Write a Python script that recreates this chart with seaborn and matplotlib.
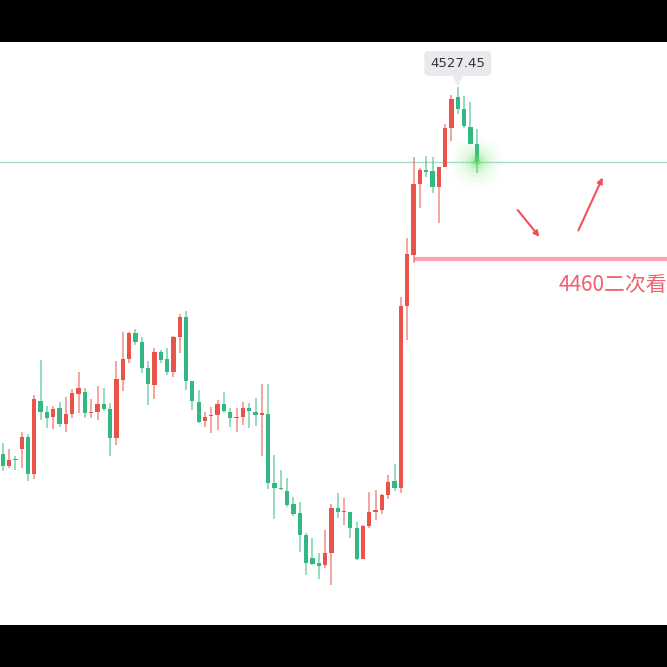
import numpy as np
import pandas as pd
import seaborn as sns
import matplotlib
matplotlib.use("Agg")
import matplotlib.pyplot as plt

# candle values (gold, short timeframe)
opens = [4383.7, 4379.2, 4381.8, 4385.8, 4390.6, 4376.0, 4404.7, 4400.2, 4398.5, 4401.7,
         4395.6, 4399.5, 4407.3, 4408.2, 4399.8, 4400.3, 4403.3, 4401.4, 4390.2, 4412.8,
         4420.9, 4431.1, 4427.6, 4417.6, 4410.9, 4423.7, 4421.0, 4416.1, 4429.5, 4437.6,
         4412.4, 4404.3, 4396.8, 4398.6, 4399.1, 4403.3, 4400.4, 4397.8, 4398.5, 4402.0,
         4400.4, 4399.2, 4399.5, 4372.4, 4370.5, 4369.5, 4364.2, 4360.6, 4352.1, 4343.3,
         4341.1, 4340.4, 4345.0, 4362.6, 4361.0, 4361.3, 4355.0, 4342.6, 4355.8, 4361.3,
         4361.9, 4367.8, 4373.3, 4370.4, 4441.8, 4461.8, 4489.6, 4495.0, 4494.6, 4488.3,
         4496.1, 4511.4, 4523.5, 4518.9, 4511.8, 4505.2]
closes = [4379.2, 4381.5, 4381.4, 4390.6, 4376.0, 4405.3, 4400.3, 4398.0, 4401.6, 4395.6,
          4399.4, 4407.6, 4409.6, 4399.9, 4400.3, 4403.3, 4401.4, 4390.2, 4413.1, 4420.9,
          4431.1, 4427.6, 4417.6, 4411.3, 4423.7, 4420.5, 4415.8, 4429.5, 4437.6, 4412.4,
          4404.6, 4396.5, 4398.2, 4399.1, 4403.3, 4400.7, 4397.8, 4398.2, 4402.0, 4400.7,
          4399.1, 4399.8, 4372.6, 4370.7, 4370.0, 4363.9, 4360.4, 4352.1, 4341.3, 4340.8,
          4340.1, 4345.0, 4362.6, 4361.3, 4361.5, 4355.0, 4342.6, 4355.7, 4361.0, 4361.9,
          4367.8, 4372.8, 4370.7, 4441.8, 4462.0, 4489.6, 4495.0, 4494.4, 4488.3, 4496.1,
          4511.4, 4522.8, 4518.9, 4512.3, 4505.2, 4498.3]
highs = [4388.0, 4385.8, 4383.1, 4392.4, 4391.6, 4406.8, 4420.5, 4402.8, 4402.6, 4404.3,
         4406.1, 4409.2, 4415.8, 4409.6, 4405.4, 4410.5, 4409.6, 4403.7, 4420.4, 4431.5,
         4431.5, 4432.8, 4429.8, 4420.4, 4425.2, 4424.6, 4425.2, 4430.2, 4438.7, 4439.8,
         4412.4, 4408.9, 4400.4, 4402.4, 4405.0, 4408.2, 4402.0, 4402.0, 4404.3, 4403.7,
         4405.7, 4411.1, 4411.1, 4383.5, 4377.6, 4374.3, 4367.1, 4364.9, 4353.0, 4350.8,
         4345.2, 4354.1, 4364.3, 4368.5, 4366.5, 4361.3, 4357.4, 4356.1, 4369.1, 4369.8,
         4368.1, 4375.6, 4379.8, 4445.4, 4468.3, 4500.0, 4495.7, 4500.5, 4500.2, 4496.3,
         4512.9, 4524.4, 4527.45, 4524.0, 4521.5, 4511.0]
lows = [4377.3, 4378.3, 4377.6, 4378.3, 4373.3, 4374.1, 4397.2, 4394.2, 4393.5, 4394.3,
        4392.5, 4397.8, 4399.8, 4398.0, 4397.8, 4397.2, 4400.7, 4383.1, 4387.4, 4408.5,
        4419.4, 4426.5, 4415.4, 4403.0, 4405.3, 4419.4, 4414.8, 4414.1, 4423.3, 4408.9,
        4401.1, 4395.9, 4394.3, 4392.0, 4393.3, 4399.8, 4394.3, 4392.6, 4395.2, 4394.2,
        4394.8, 4383.1, 4370.2, 4358.4, 4369.8, 4363.2, 4359.7, 4345.4, 4336.5, 4340.4,
        4334.8, 4339.1, 4332.6, 4358.7, 4356.1, 4351.1, 4342.4, 4342.6, 4354.8, 4358.0,
        4360.4, 4366.2, 4369.4, 4368.5, 4428.5, 4458.5, 4480.0, 4492.2, 4485.9, 4474.2,
        4496.1, 4506.4, 4516.8, 4511.6, 4505.2, 4493.7]

support_level = 4460
current_price = 4498.3
peak_label = "4527.45"
note_text = "4460二次看"

df = pd.DataFrame({"open": opens, "high": highs, "low": lows, "close": closes})
df["idx"] = np.arange(len(df))
df["up"] = df["close"] >= df["open"]

sns.set_style("white")
plt.rcParams["font.family"] = ["Noto Sans CJK SC", "DejaVu Sans"]

RED = "#e9534a"
GREEN = "#34b883"

fig = plt.figure(figsize=(6.67, 6.67), dpi=100, facecolor="black")
ax = fig.add_axes([0, 42 / 667, 1, 583 / 667])
ax.set_facecolor("white")

colors = np.where(df["up"], RED, GREEN)

# wicks
ax.vlines(df["idx"], df["low"], df["high"], colors=colors, alpha=0.6, lw=1.2, zorder=2)
# bodies
body_lo = np.minimum(df["open"], df["close"])
body_h = np.maximum(np.abs(df["close"] - df["open"]), 0.5)
ax.bar(df["idx"], body_h, bottom=body_lo, width=0.68, color=colors, lw=0, zorder=3)

# current price line
ax.axhline(current_price, color="#a9dcc9", lw=1, zorder=1)

# support line from the breakout candle to the right edge
ax.hlines(support_level, 65, 110, color="#ffa4ae", lw=3, zorder=1)
ax.text(88.0, support_level - 10, note_text, color="#f0606e", fontsize=15,
        ha="left", va="center", family=["Noto Sans CJK SC", "DejaVu Sans"])

# hand drawn arrows
arrow = dict(arrowstyle="-|>", color="#f2505c", lw=1.5, mutation_scale=8)
ax.annotate("", xy=(85.2, 4468.0), xytext=(81.2, 4480.2), arrowprops=arrow)
ax.annotate("", xy=(95.1, 4493.1), xytext=(90.9, 4470.4), arrowprops=arrow)

# glow on the last close
last = df.iloc[-1]
for s, a in [(1400, 0.03), (900, 0.05), (500, 0.08), (250, 0.12), (100, 0.2), (30, 0.5)]:
    sns.scatterplot(x=[last["idx"]], y=[last["close"]], s=s, color="#5fe05f",
                    alpha=a, edgecolor="none", ax=ax, legend=False, zorder=4)

# tooltip with the peak value
peak_i = int(df["high"].idxmax())
ax.scatter([peak_i], [df["high"].max() + 3.2], marker="v", s=110, color="#e8eaed",
           edgecolor="none", zorder=5)
ax.text(peak_i, df["high"].max() + 9.3, peak_label, fontsize=9.5, color="#333333",
        ha="center", va="center", family="DejaVu Sans", zorder=6,
        bbox=dict(boxstyle="round,pad=0.45,rounding_size=0.3", fc="#e8eaed", ec="none"))

ax.set_xlim(-0.43, 105.1)
ax.set_ylim(4316.9, 4545.15)
ax.set_xticks([])
ax.set_yticks([])
for sp in ax.spines.values():
    sp.set_visible(False)

fig.savefig("out.png", dpi=100, facecolor="black")
